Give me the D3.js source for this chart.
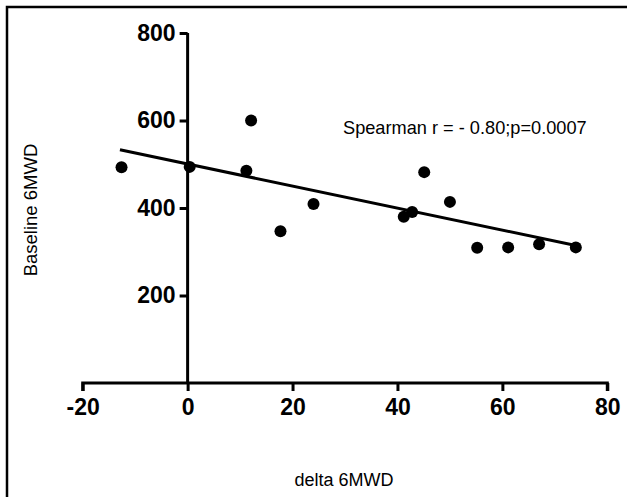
<!DOCTYPE html>
<html>
<head>
<meta charset="utf-8">
<script src="https://cdn.jsdelivr.net/npm/d3@7"></script>
<style>
  html, body { margin: 0; padding: 0; background: #fff; }
  svg { display: block; }
</style>
</head>
<body>
<svg id="chart" width="627" height="497"></svg>
<script>
// ---- data ----
const deltaX = [-12.6, 0.4, 11.2, 12.1, 17.7, 24.0, 41.2, 42.8, 45.1, 50.0, 55.2, 61.1, 67.0, 74.0];
const baselineY = [493, 494, 485, 600, 347, 409, 380, 391, 482, 414, 309, 310, 317, 310];
const fitX = [-12.9, 74.9];
const fitY = [533, 312];
const xTicks = [-20, 0, 20, 40, 60, 80];
const yTicks = [200, 400, 600, 800];
const xTitle = "delta 6MWD";
const yTitle = "Baseline 6MWD";
const note = "Spearman r = - 0.80;p=0.0007";

const svg = d3.select("#chart");
const x = d3.scaleLinear().domain([-20, 80]).range([82.7, 607.3]);
const y = d3.scaleLinear().domain([0, 800]).range([383, 33]);

// frame (top and left edges)
svg.append("path")
  .attr("d", "M7,497 L7,7 L627,7")
  .attr("fill", "none").attr("stroke", "#000").attr("stroke-width", 2.5);

const font = "'Liberation Sans', Arial, Helvetica, sans-serif";

// x axis
const gx = svg.append("g").attr("transform", `translate(0,${y(0)})`)
  .call(d3.axisBottom(x).tickValues(xTicks).tickSize(8).tickSizeOuter(0).tickPadding(8).tickFormat(d => String(d)));
// y axis at x = 0
const gy = svg.append("g").attr("transform", `translate(${x(0)},0)`)
  .call(d3.axisLeft(y).tickValues(yTicks).tickSize(8).tickSizeOuter(0).tickPadding(4).tickFormat(d => String(d)));

[gx, gy].forEach(g => {
  g.select(".domain").attr("stroke", "#000").attr("stroke-width", 3);
  g.selectAll(".tick line").attr("stroke", "#000").attr("stroke-width", 3);
  g.selectAll(".tick text")
    .attr("fill", "#000")
    .style("font-family", font)
    .style("font-weight", "bold")
    .style("font-size", "23px");
});
gx.select(".domain").attr("d", `M${x(-20)},8V0H${x(80)}V8`);
gy.select(".domain").attr("d", `M0,${y(0)}V${y(800)}`);

// regression line
svg.append("line")
  .attr("x1", x(fitX[0])).attr("y1", y(fitY[0]))
  .attr("x2", x(fitX[1])).attr("y2", y(fitY[1]))
  .attr("stroke", "#000").attr("stroke-width", 3);

// points
svg.append("g").selectAll("circle")
  .data(deltaX.map((d, i) => [d, baselineY[i]]))
  .join("circle")
  .attr("cx", d => x(d[0])).attr("cy", d => y(d[1]))
  .attr("r", 6).attr("fill", "#000");

// annotation
svg.append("text")
  .attr("x", 343).attr("y", 134)
  .style("font-family", font).style("font-size", "18.2px")
  .attr("fill", "#000")
  .text(note);

// axis titles
svg.append("text")
  .attr("x", 344).attr("y", 486).attr("text-anchor", "middle")
  .style("font-family", font).style("font-size", "18px")
  .attr("fill", "#000").text(xTitle);

svg.append("text")
  .attr("transform", "translate(37,210) rotate(-90)")
  .attr("text-anchor", "middle")
  .style("font-family", font).style("font-size", "18.5px")
  .attr("fill", "#000").text(yTitle);
</script>
</body>
</html>
